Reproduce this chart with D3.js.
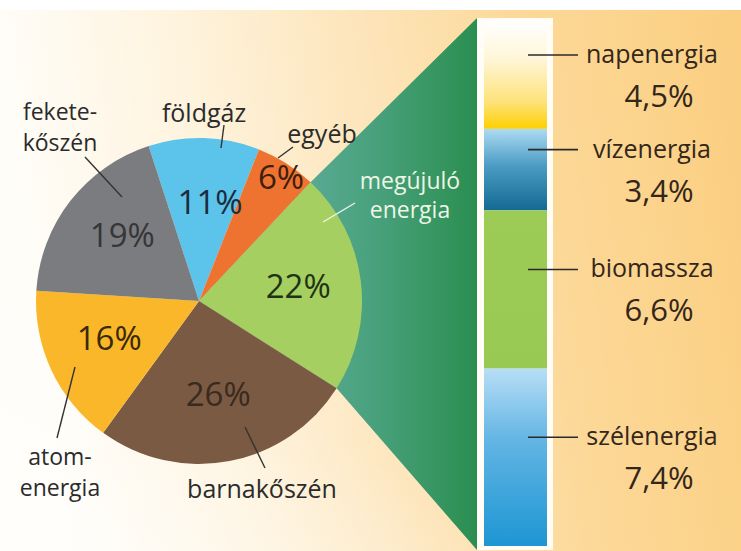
<!DOCTYPE html>
<html><head><meta charset="utf-8">
<script src="https://cdn.jsdelivr.net/npm/d3@7/dist/d3.min.js"></script>
<style>
html,body{margin:0;padding:0;background:#fff;}
svg{display:block;font-family:"Open Sans",sans-serif;}
</style></head>
<body>
<svg id="chart" width="741" height="551"></svg>
<script>
// ---- data ----
const categories = ["földgáz", "egyéb", "megújuló energia", "barnakőszén", "atomenergia", "feketekőszén"];
const shares = [11, 6, 22, 26, 16, 19];
const shareLabels = ["11%", "6%", "22%", "26%", "16%", "19%"];
const renewables = ["napenergia", "vízenergia", "biomassza", "szélenergia"];
const renewableShares = [4.5, 3.4, 6.6, 7.4];
const renewableLabels = ["4,5%", "3,4%", "6,6%", "7,4%"];

// ---- layout / style ----
const W = 741, H = 551;
const cx = 199, cy = 301, R = 163;
const startDeg = -18;
const sliceColors = ["#5cc3ea", "#ee7331", "#a6cf62", "#7b5a43", "#fbb72a", "#7b7c80"];
const pctColors = ["#1b2c3c", "#3e1e0c", "#1f3412", "#3a2a1e", "#3a2907", "#363636"];
const pctOffsets = [[8,-2],[30,-42],[3,-3],[1,-2],[-2,-4],[0,-6]];
const barX0 = 477, barX1 = 553, barTop = 18, barBot = 550, inset = 7;

const svg = d3.select("#chart");
const defs = svg.append("defs");

// background gradient
const bg = defs.append("linearGradient").attr("id","bg").attr("x1","0").attr("x2","1").attr("y1","0.1").attr("y2","0");
[["0%","#fffdf8"],["25%","#fef3dd"],["48%","#fde5bb"],["72%","#fcd897"],["100%","#fbce80"]]
  .forEach(([o,c])=>bg.append("stop").attr("offset",o).attr("stop-color",c));
svg.append("rect").attr("x",0).attr("y",10).attr("width",W).attr("height",H-10).attr("fill","url(#bg)");
const bgv = defs.append("linearGradient").attr("id","bgv").attr("x1","0").attr("x2","0.6").attr("y1","1").attr("y2","0.2");
bgv.append("stop").attr("offset","0%").attr("stop-color","#ffffff").attr("stop-opacity",0.55);
bgv.append("stop").attr("offset","45%").attr("stop-color","#ffffff").attr("stop-opacity",0);
svg.append("rect").attr("x",0).attr("y",10).attr("width",W).attr("height",H-10).attr("fill","url(#bgv)");

// pie
const pie = d3.pie().sort(null).startAngle(startDeg*Math.PI/180).endAngle((startDeg+360)*Math.PI/180);
const arcs = pie(shares);
const arc = d3.arc().innerRadius(0).outerRadius(R);
const pt = (a, r) => [cx + r*Math.sin(a), cy - r*Math.cos(a)];

// green fan to bar
const gg = defs.append("linearGradient").attr("id","fan").attr("gradientUnits","userSpaceOnUse")
  .attr("x1",300).attr("x2",barX0).attr("y1",0).attr("y2",0);
gg.append("stop").attr("offset","0%").attr("stop-color","#5aab95");
gg.append("stop").attr("offset","45%").attr("stop-color","#47a07a");
gg.append("stop").attr("offset","100%").attr("stop-color","#2b8e50");
const ren = arcs[2];
const fanPts = [[cx,cy], pt(ren.startAngle,R), [barX0, barTop], [barX0, barBot], pt(ren.endAngle,R)];
svg.append("polygon").attr("points", fanPts.map(p=>p.join(",")).join(" ")).attr("fill","url(#fan)");

const gPie = svg.append("g").attr("transform",`translate(${cx},${cy})`);
gPie.selectAll("path").data(arcs).join("path").attr("d",arc).attr("fill",(d,i)=>sliceColors[i]);

// pie percent labels
const labelArc = d3.arc().innerRadius(97).outerRadius(97);
gPie.selectAll("text.pct").data(arcs).join("text").attr("class","pct")
  .attr("x",(d,i)=>labelArc.centroid(d)[0]+pctOffsets[i][0])
  .attr("y",(d,i)=>labelArc.centroid(d)[1]+pctOffsets[i][1])
  .attr("dy","0.36em").attr("text-anchor","middle")
  .attr("font-size",33).attr("fill",(d,i)=>pctColors[i])
  .text((d,i)=>shareLabels[i]);

// category labels (positions as annotations)
const catText = [
  {lines:["fekete-","kőszén"], x:60, y:120, color:"#2b2b2b", size:23, gap:31},
  {lines:["földgáz"], x:204, y:122, color:"#2b2b2b"},
  {lines:["egyéb"], x:322, y:143, color:"#2b2b2b"},
  {lines:["megújuló","energia"], x:410, y:189, color:"#eef6e6", size:23, gap:29},
  {lines:["atom-","energia"], x:60, y:465, color:"#2b2b2b", size:23, gap:31},
  {lines:["barnakőszén"], x:262, y:498, color:"#2b2b2b"}
];
const catOrder = [5,0,1,2,4,3];
const leaders = [
  [[85,157],[122,197],"#333"],
  [[224,125],[221,148],"#333"],
  [[293,147],[278,158],"#333"],
  [[355,203],[323,222],"#eef6e6"],
  [[75,367],[57,438],"#333"],
  [[245,427],[265,468],"#333"]
];
leaders.forEach(([a,b,c])=>svg.append("line").attr("x1",a[0]).attr("y1",a[1]).attr("x2",b[0]).attr("y2",b[1])
  .attr("stroke",c).attr("stroke-width",1.4));
catText.forEach((t,k)=>{
  const fs = t.size||25;
  t.lines.forEach((ln,j)=>svg.append("text").attr("text-anchor","middle").attr("font-size",fs)
    .attr("fill",t.color).attr("data-category",categories[catOrder[k]])
    .attr("x",t.x).attr("y",t.y+j*(t.gap||28)).text(ln));
});

// renewable bar
svg.append("rect").attr("x",barX0).attr("y",barTop).attr("width",barX1-barX0).attr("height",barBot-barTop).attr("fill","#fffdf6");
const total = d3.sum(renewableShares);
const y = d3.scaleLinear().domain([0,total]).range([barTop+3, barBot-4]);
let acc = 0;
const segs = renewableShares.map((v,i)=>{const s={i,v,y0:acc,y1:acc+v}; acc+=v; return s;});
const segGrads = [
  [["0%","#ffffff"],["35%","#fff6d8"],["75%","#fde27a"],["100%","#fdd000"]],
  [["0%","#aedbf2"],["45%","#4c9cc5"],["100%","#136a92"]],
  [["0%","#9dcc56"],["100%","#98c952"]],
  [["0%","#b7def6"],["40%","#63b5e4"],["100%","#1d96d3"]]
];
segGrads.forEach((st,i)=>{
  const g = defs.append("linearGradient").attr("id","seg"+i).attr("x1",0).attr("x2",0).attr("y1",0).attr("y2",1);
  st.forEach(([o,c])=>g.append("stop").attr("offset",o).attr("stop-color",c));
});
svg.selectAll("rect.seg").data(segs).join("rect").attr("class","seg")
  .attr("x",barX0+inset).attr("width",barX1-barX0-2*inset+1)
  .attr("y",d=>y(d.y0)).attr("height",d=>y(d.y1)-y(d.y0))
  .attr("fill",d=>`url(#seg${d.i})`);

const lead = d => (y(d.y0)+y(d.y1))/2 - 20;
svg.selectAll("line.rl").data(segs).join("line").attr("class","rl")
  .attr("x1",528).attr("x2",578).attr("y1",lead).attr("y2",lead)
  .attr("stroke","#2a2a2a").attr("stroke-width",1.6);
svg.selectAll("text.rn").data(segs).join("text").attr("class","rn")
  .attr("x",652).attr("y",d=>lead(d)+8).attr("text-anchor","middle")
  .attr("font-size",25).attr("fill","#33261a").text(d=>renewables[d.i]);
svg.selectAll("text.rp").data(segs).join("text").attr("class","rp")
  .attr("x",659).attr("y",d=>lead(d)+52).attr("text-anchor","middle")
  .attr("font-size",31).attr("fill","#33261a").text(d=>renewableLabels[d.i]);
</script>
</body></html>
